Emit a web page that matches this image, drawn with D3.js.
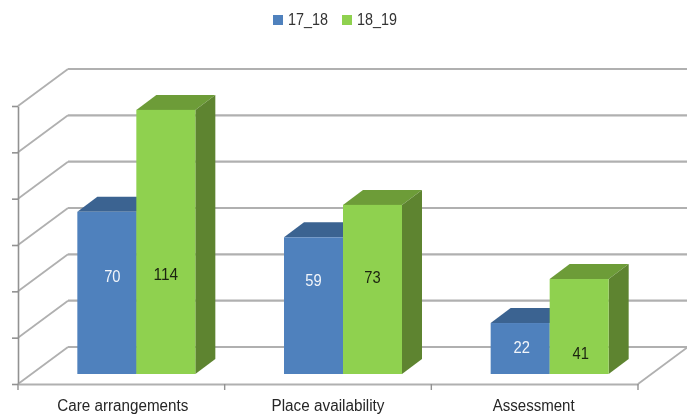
<!DOCTYPE html>
<html><head><meta charset="utf-8">
<script src="https://cdn.jsdelivr.net/npm/d3@7"></script>
<style>html,body{margin:0;background:#fff}svg{display:block;filter:blur(.6px)}text{font-family:"Liberation Sans",Arial,sans-serif;}</style>
</head><body><svg width="687" height="417"></svg>
<script>
const categories = ["Care arrangements","Place availability","Assessment"];
const seriesNames = ["17_18","18_19"];
const values17_18 = [70,59,22];
const values18_19 = [114,73,41];
const axisTicks = [0,20,40,60,80,100,120];

const colors = {
  "17_18":{front:"#4f81bd",top:"#3b6391",side:"#3a608c",text:"#f2f5fa"},
  "18_19":{front:"#8fd14f",top:"#6d9c38",side:"#5e8430",text:"#1c2410"}
};
const L=18,R=638,floorY=384,topY=106,depthX=50,depthY=-37;
const barDepthX=20,barDepthY=-15,barInsetY=-10;
// label placement nudges (px, relative to the middle of the bar front)
const labelNudgeY={"17_18":[-17,-26,-2],"18_19":[32,-12,26]};
const labelNudgeX={"17_18":[5.5,0,1.5],"18_19":[0,0,1.5]};
const catNudgeX=[1.5,0,-1];
const catWidths=[131,113,82];

const svg=d3.select("svg");
const x=d3.scaleBand().domain(categories).range([L,R]);
const xs=d3.scaleBand().domain(seriesNames).range([0,118]);
const y=d3.scaleLinear().domain([0,120]).range([floorY,topY]);
const grid="#b0b0b0", axisC="#929292";

// walls
const g=svg.append("g");
g.selectAll(".wall").data(axisTicks).join("line")
 .attr("x1",L+depthX).attr("x2",R+depthX)
 .attr("y1",d=>y(d)+depthY).attr("y2",d=>y(d)+depthY)
 .attr("stroke",grid).attr("stroke-width",2.2);
g.selectAll(".diag").data(axisTicks).join("line")
 .attr("x1",L).attr("x2",L+depthX)
 .attr("y1",d=>y(d)).attr("y2",d=>y(d)+depthY)
 .attr("stroke",grid).attr("stroke-width",1.8);
g.append("line").attr("x1",R).attr("x2",R+depthX).attr("y1",floorY).attr("y2",floorY+depthY)
 .attr("stroke",grid).attr("stroke-width",1.8);

// axes
const yAxis=d3.axisLeft(y).tickValues(axisTicks).tickFormat("").tickSize(6).tickSizeOuter(0);
const ya=svg.append("g").attr("transform",`translate(${L},0)`).call(yAxis);
ya.selectAll("line,path").attr("stroke",axisC).attr("stroke-width",1.6);
const xAxis=d3.axisBottom(x).tickFormat("").tickSize(0).tickSizeOuter(0);
const xa=svg.append("g").attr("transform",`translate(0,${floorY})`).call(xAxis);
xa.select("path").attr("stroke",grid).attr("stroke-width",2.2);
xa.selectAll(".tick").remove();
xa.selectAll(".t").data([L,...categories.map(c=>x(c)+x.bandwidth())]).join("line")
 .attr("x1",d=>d).attr("x2",d=>d).attr("y1",0).attr("y2",6).attr("stroke",axisC).attr("stroke-width",1.4);

// bars
const barX=(c,s)=>x(c)+x.bandwidth()/2-59+15+xs(s);
const rows=[];
seriesNames.forEach((s,si)=>{
  const vals=si===0?values17_18:values18_19;
  categories.forEach((c,i)=>rows.push({s,c,i,v:vals[i]}));
});
const byOrder=rows.slice().sort((a,b)=>a.i-b.i||d3.ascending(a.s,b.s));
const base=floorY+barInsetY, u=y(0)-y(1), w=xs.bandwidth();
const bars=svg.append("g").selectAll("g").data(byOrder).join("g");
bars.append("path").attr("fill",d=>colors[d.s].top).attr("d",d=>{
  const a=barX(d.c,d.s),t=base-d.v*u;
  return `M${a},${t}l${barDepthX},${barDepthY}h${w}l${-barDepthX},${-barDepthY}Z`;});
bars.append("path").attr("fill",d=>colors[d.s].side).attr("d",d=>{
  const a=barX(d.c,d.s)+w,t=base-d.v*u;
  return `M${a},${t}l${barDepthX},${barDepthY}V${base+barDepthY}l${-barDepthX},${-barDepthY}Z`;});
bars.append("rect").attr("fill",d=>colors[d.s].front)
 .attr("x",d=>barX(d.c,d.s)).attr("width",w)
 .attr("y",d=>base-d.v*u).attr("height",d=>d.v*u);
bars.append("text").attr("text-anchor","middle").attr("font-size",16.5)
 .attr("fill",d=>colors[d.s].text)
 .attr("x",d=>barX(d.c,d.s)+w/2+labelNudgeX[d.s][d.i])
 .attr("y",d=>base-d.v*u/2+labelNudgeY[d.s][d.i]+6)
 .attr("textLength",d=>String(d.v).length*8.2)
 .attr("lengthAdjust","spacingAndGlyphs")
 .text(d=>d.v);

// category labels
svg.append("g").selectAll("text").data(categories).join("text")
 .attr("text-anchor","middle").attr("font-size",16).attr("fill","#262626")
 .attr("x",(d,i)=>x(d)+x.bandwidth()/2+catNudgeX[i]).attr("y",411)
 .attr("textLength",(d,i)=>catWidths[i])
 .attr("lengthAdjust","spacingAndGlyphs")
 .text(d=>d);

// legend
const lg=svg.append("g").selectAll("g").data(seriesNames).join("g")
 .attr("transform",(d,i)=>`translate(${273+i*69},0)`);
lg.append("rect").attr("y",15).attr("width",10).attr("height",10).attr("fill",d=>colors[d].front);
lg.append("text").attr("x",15).attr("y",25).attr("font-size",16).attr("fill","#333")
 .attr("textLength",40).attr("lengthAdjust","spacingAndGlyphs").text(d=>d);
</script></body></html>
